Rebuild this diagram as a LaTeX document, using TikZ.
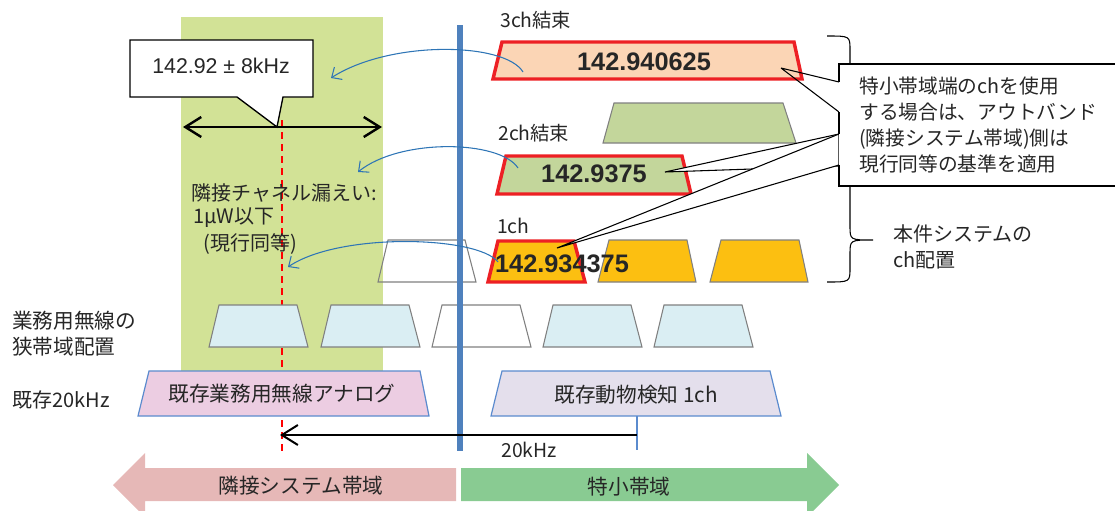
\documentclass[tikz,border=0pt]{standalone}
\usepackage{fontspec}
\setmainfont{Noto Sans CJK JP}
\newfontfamily\numfont{Liberation Sans}
\usetikzlibrary{arrows.meta}
\tikzset{>={Straight Barb[length=12pt,width=15pt]}}

\definecolor{bandgreen}{RGB}{210,226,150}
\definecolor{ltblue}{RGB}{218,238,243}
\definecolor{peach}{RGB}{251,213,181}
\definecolor{chgreen}{RGB}{195,214,155}
\definecolor{amber}{RGB}{252,191,17}
\definecolor{chred}{RGB}{237,32,36}
\definecolor{edgeblue}{RGB}{91,139,206}
\definecolor{oldpink}{RGB}{236,205,226}
\definecolor{lavender}{RGB}{228,223,236}
\definecolor{arrowpink}{RGB}{230,184,183}
\definecolor{arrowgreen}{RGB}{137,203,146}
\definecolor{barblue}{RGB}{79,129,189}
\definecolor{curveblue}{RGB}{46,117,182}

\begin{document}
\begin{tikzpicture}[x=0.75pt, y=-0.75pt, font=\fontsize{14.5}{18}\selectfont, text=black!85,
    trap/.style={draw=gray, line width=0.8pt},
    chtrap/.style={draw=chred, line width=2.6pt},
    oldtrap/.style={draw=edgeblue, line width=0.9pt},
    num/.style={font=\numfont\bfseries\fontsize{19}{20}\selectfont},
    lbl/.style={anchor=west, inner sep=0pt},
    curve/.style={->, draw=curveblue, line width=0.8pt, >={Straight Barb[length=6pt,width=11pt]}}]

    \useasboundingbox (0,0) rectangle (1115,511);
    \clip (0,0) rectangle (1115,511);

    % adjacent system band
    \fill[bandgreen] (181,17) rectangle (383,371);
    \draw[red, line width=1.6pt, dash pattern=on 5pt off 4pt] (282,120) -- (282,452);

    % narrowband business radio
    \foreach \a/\c in {209/ltblue, 321/ltblue, 432/none, 543/ltblue, 654/ltblue}
    {
        \draw[trap, fill=\c] (\a,347) -- (\a+10,305) -- (\a+88,305) -- (\a+99,347) -- cycle;
    }

    % existing 20kHz
    \draw[oldtrap, fill=oldpink] (138,416) -- (149,371) -- (420,371) -- (429,416) -- cycle;
    \draw[oldtrap, fill=lavender] (491,416) -- (502,371) -- (770,371) -- (781,416) -- cycle;
    \node[font=\fontsize{15.5}{18}\selectfont] (analog) at (282,394) {既存業務用無線アナログ};
    \node[font=\fontsize{15.5}{18}\selectfont] (animal) at (636,395) {既存動物検知 1ch};
    \draw[edgeblue, line width=1pt] (637,416) -- (637,450);

    % channel rows
    \draw[trap] (378,282) -- (388,240) -- (465,240) -- (476,282) -- cycle;
    \foreach \a/\b in {598/696, 710/808}
    {
        \draw[trap, fill=amber] (\a,282) -- (\a+11,240) -- (\b-9,240) -- (\b,282) -- cycle;
    }
    \draw[chtrap, fill=amber] (488,282) -- (498,241) -- (574,241) -- (585,282) -- cycle;
    \draw[trap, fill=chgreen] (603,143) -- (614,103) -- (783,103) -- (796,143) -- cycle;
    \draw[chtrap, fill=chgreen] (497,194) -- (506,156) -- (682,156) -- (691,194) -- cycle;
    \draw[chtrap, fill=peach] (493,79) -- (502,42) -- (794,42) -- (802,79) -- cycle;

    \node[num] (ch3) at (644,62) {142.940625};
    \node[num] (ch2) at (594,174) {142.9375};
    \node[num] (ch1) at (562,264) {142.934375};
    \node[lbl] (lab3) at (500,20) {3ch結束};
    \node[lbl] (lab2) at (498,133) {2ch結束};
    \node[lbl] (lab1) at (497,226) {1ch};

    % band edge
    \draw[barblue, line width=4.5pt] (460,25) -- (460,451);

    % leakage arrows
    \coordinate (s3) at (523,72);  \coordinate (e3) at (331,78);
    \coordinate (s2) at (518,168); \coordinate (e2) at (358,172);
    \coordinate (s1) at (498,262); \coordinate (e1) at (288,267);
    \draw[curve] (s3) .. controls (505,42) and (390,40) .. (e3);
    \draw[curve] (s2) .. controls (500,140) and (400,138) .. (e2);
    \draw[curve] (s1) .. controls (478,236) and (340,232) .. (e1);

    \node[lbl, font=\fontsize{15}{18}\selectfont] (leak1) at (191,193) {隣接チャネル漏えい:};
    \node[lbl, font=\fontsize{15}{18}\selectfont] (leak2) at (193,218) {1μW以下};
    \node[lbl, font=\fontsize{15}{18}\selectfont] (leak3) at (203,244) {(現行同等)};

    % +-8kHz
    \coordinate (bwl) at (183,127);
    \coordinate (bwr) at (382,127);
    \draw[<->, line width=1.8pt] (bwl) -- (bwr);
    \draw[fill=white, line width=1pt] (130,40) -- (313,40) -- (313,97) -- (283,97) -- (277,127) -- (237,97) -- (130,97) -- cycle;
    \node[font=\numfont\fontsize{16}{18}\selectfont] (bw) at (221,66) {142.92 ± 8kHz};

    % 20kHz spacing
    \coordinate (sp1) at (280,435);
    \coordinate (sp2) at (637,435);
    \draw[<-, line width=1.5pt] (sp1) -- (sp2);
    \node (sp) at (529,450) {20kHz};

    % brace and note
    \draw[line width=0.8pt] (827,36) .. controls (850,36) .. (850,50) -- (850,226)
        .. controls (850,240) .. (873,240) .. controls (850,240) .. (850,254)
        -- (850,268) .. controls (850,282) .. (827,282);
    \node[lbl, align=left, font=\fontsize{15}{19.5}\selectfont] (ours) at (893,247) {本件システムの\\ch配置};

    \draw[line width=0.8pt] (781,68) -- (839,82) (781,68) -- (839,112);
    \filldraw[fill=white, line width=0.8pt] (665,172) -- (839,134) -- (839,166) -- cycle;
    \filldraw[fill=white, line width=0.8pt] (557,248) -- (839,134) -- (839,165) -- cycle;
    \fill[white] (839,64) rectangle (1125,186);
    \draw[line width=1pt] (839,82) -- (839,64) -- (1125,64);
    \draw[line width=1pt] (839,112) -- (839,134);
    \draw[line width=1pt] (839,165) -- (839,186) -- (1125,186);
    \node[lbl, align=left, font=\fontsize{14.8}{19.5}\selectfont] (note) at (859,125)
        {特小帯域端のchを使用\\する場合は、アウトバンド\\(隣接システム帯域)側は\\現行同等の基準を適用};

    % left labels
    \node[lbl, align=left, font=\fontsize{15.5}{19.5}\selectfont] (narrow) at (12,334) {業務用無線の\\狭帯域配置};
    \node[lbl, font=\fontsize{15}{18}\selectfont] (exist) at (12,400) {既存20kHz};

    % bottom band arrows
    \fill[arrowpink] (456,468) -- (145,468) -- (145,453) -- (113,485) -- (145,517) -- (145,501) -- (456,501) -- cycle;
    \fill[arrowgreen] (461,468) -- (807,468) -- (807,453) -- (839,485) -- (807,517) -- (807,501) -- (461,501) -- cycle;
    \node[font=\fontsize{15.5}{18}\selectfont] (adj) at (301,486) {隣接システム帯域};
    \node[font=\fontsize{15.5}{18}\selectfont] (tok) at (629,487) {特小帯域};
\end{tikzpicture}
\end{document}
